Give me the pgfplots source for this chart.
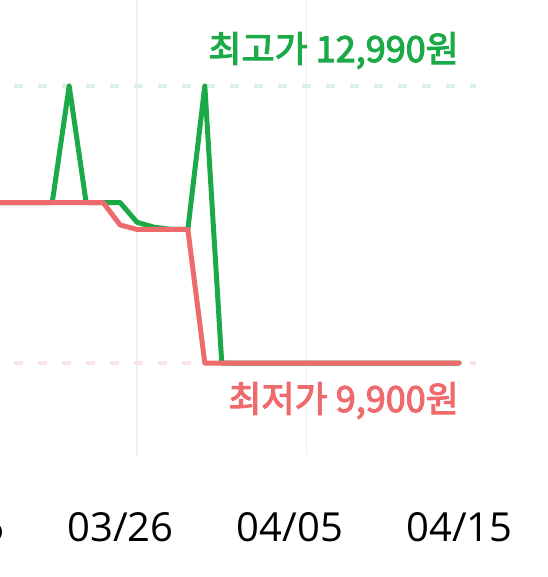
\documentclass[border=0pt]{standalone}
\usepackage{fontspec}
\setmainfont{Open Sans}
\newfontfamily\kr{Noto Sans CJK KR}[FakeBold=3]
\usepackage{pgfplots}
\pgfplotsset{compat=1.18}
\definecolor{hi}{HTML}{1BAA47}
\definecolor{lo}{HTML}{EE6A6C}
\definecolor{hidot}{HTML}{DDF2E3}
\definecolor{lodot}{HTML}{FCE4E5}
\definecolor{gridc}{HTML}{F0F0F0}

\begin{document}
\begin{tikzpicture}
\begin{axis}[
	at={(-66.4pt,122pt)}, anchor=south west,
	scale only axis, width=542.4pt, height=455pt,
	xmin=-12, xmax=20, ymin=8874, ymax=13949,
	axis line style={draw=none},
	major tick length=0pt,
	ytick=\empty,
	xtick={-10,0,10},
	xticklabels={03/16,03/26,04/05},
	extra x ticks={20}, extra x tick labels={04/15},
	extra x tick style={grid=none},
	xmajorgrids, grid style={gridc, line width=1.5pt},
	xticklabel style={font=\fontsize{40}{40}\selectfont, anchor=base,
		xshift=-16.5pt, yshift=-87pt, inner sep=0pt},
	]

	% min / max guides
	\addplot[hidot, line width=4pt, dash pattern=on 9pt off 15pt] coordinates {(-7.26,12990) (20,12990)};
	\addplot[lodot, line width=4pt, dash pattern=on 9pt off 15pt] coordinates {(-7.26,9900) (20,9900)};

	% highest price
	\addplot[hi, line width=5pt, line join=round, line cap=round] coordinates {
		(-12,11690) (-5,11690) (-4,12990) (-3,11690) (-2,11690) (-1,11690)
		(0,11470) (1,11415) (2,11390) (3,11390) (4,12990) (5,9900) (19,9900)};

	% lowest price
	\addplot[lo, line width=5pt, line join=round, line cap=round] coordinates {
		(-12,11690) (-2,11690) (-1,11440) (0,11390) (1,11390) (2,11390)
		(3,11390) (4,9900) (19,9900)};

	\node[anchor=base east, inner sep=0pt, text=hi, font=\kr\fontsize{36}{36}\selectfont]
		at (axis cs:19,12990) [yshift=24pt] {최고가 12,990원};
	\node[anchor=base east, inner sep=0pt, text=lo, font=\kr\fontsize{36}{36}\selectfont]
		at (axis cs:19,9900) [yshift=-49pt] {최저가 9,900원};
\end{axis}
\pgfresetboundingbox
\path (0pt,0pt) rectangle (547pt,577pt);
\end{tikzpicture}
\end{document}
